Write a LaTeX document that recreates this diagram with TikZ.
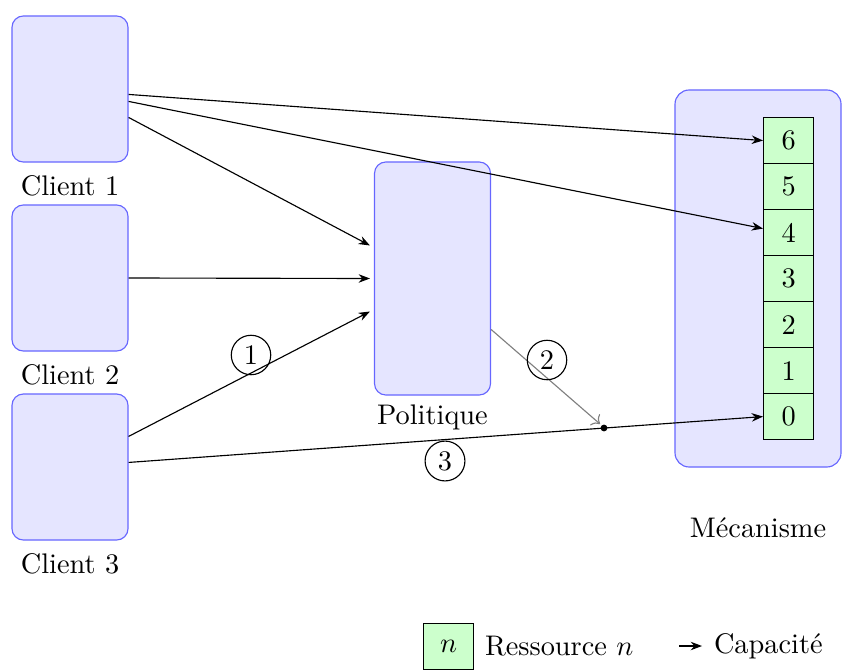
\documentclass[tikz,border=0pt]{standalone}
\usetikzlibrary{arrows.meta,calc}

\tikzset{
  agent/.style={draw=blue!60, fill=blue!10, rounded corners=4pt, minimum width=116*0.35294pt, inner sep=0pt},
  cell/.style={draw=black, fill=green!20, minimum width=50*0.35294pt, minimum height=46*0.35294pt, inner sep=0pt, anchor=north west},
  flow/.style={-{Stealth[length=4pt,width=3pt]}, thin},
  tag/.style={draw, circle, inner sep=2pt},
  dotpt/.style={circle, fill=black, inner sep=0pt, minimum size=2.4pt}
}

\begin{document}
\begin{tikzpicture}[x=0.35294pt, y=-0.35294pt]
\useasboundingbox (0,0) rectangle (850,669);

% clients
\node[agent, minimum height=146*0.35294pt] (c1) at (70,89) {};
\node[agent, minimum height=146*0.35294pt] (c2) at (70,278) {};
\node[agent, minimum height=146*0.35294pt] (c3) at (70,467) {};
\node (l1) at (70,186) {Client 1};
\node (l2) at (70,375) {Client 2};
\node (l3) at (70,564) {Client 3};

% policy
\node[agent, minimum height=233*0.35294pt] (pol) at (432.5,278.5) {};
\node (lpol) at (432.5,417) {Politique};

% mechanism
\node[agent, minimum width=166*0.35294pt, minimum height=377*0.35294pt, rounded corners=5pt] (mec) at (758,278.5) {};
\node (lmec) at (758,528) {Mécanisme};

% resource stack
\foreach \k/\y in {6/117,5/163,4/209,3/255,2/301,1/347,0/393}
  \node[cell] (r\k) at (763,\y) {\k};

% meeting point of the two last steps
\coordinate (d) at (604,428);
\node[dotpt] (dd) at (d) {};

% connectors
\draw[flow] ($(c1.north east)+(0,79)$) -- (r6.west);
\draw[flow] ($(c1.north east)+(0,86)$) -- ($(r4.west)+(0,-4)$);
\draw[flow] ($(c1.north east)+(0,102)$) -- ($(pol.west)+(-4,-33)$);
\draw[flow] (c2.east) -- ($(pol.west)+(-4,0)$);
\draw[flow] ($(c3.north east)+(0,43)$) -- ($(pol.west)+(-4,33)$);
\draw[flow] ($(c3.north east)+(0,69)$) -- (r0.west);
\draw[->, gray] ($(pol.north east)+(0,168)$) -- ($(dd)+(-4,-4)$);

% step tags
\node[tag] (t1) at (251,355) {1};
\node[tag] (t2) at (547,360) {2};
\node[tag] (t3) at (445,461) {3};

% legend
\node[cell] (leg) at (423,623) {$n$};
\node[anchor=west] (legtxt) at (475,646) {Ressource $n$};
\coordinate (ca) at (679,646);
\coordinate (cb) at (702,646);
\draw[flow] (ca) -- (cb);
\node[anchor=west] (legcap) at (704,646) {Capacité};
\end{tikzpicture}
\end{document}
